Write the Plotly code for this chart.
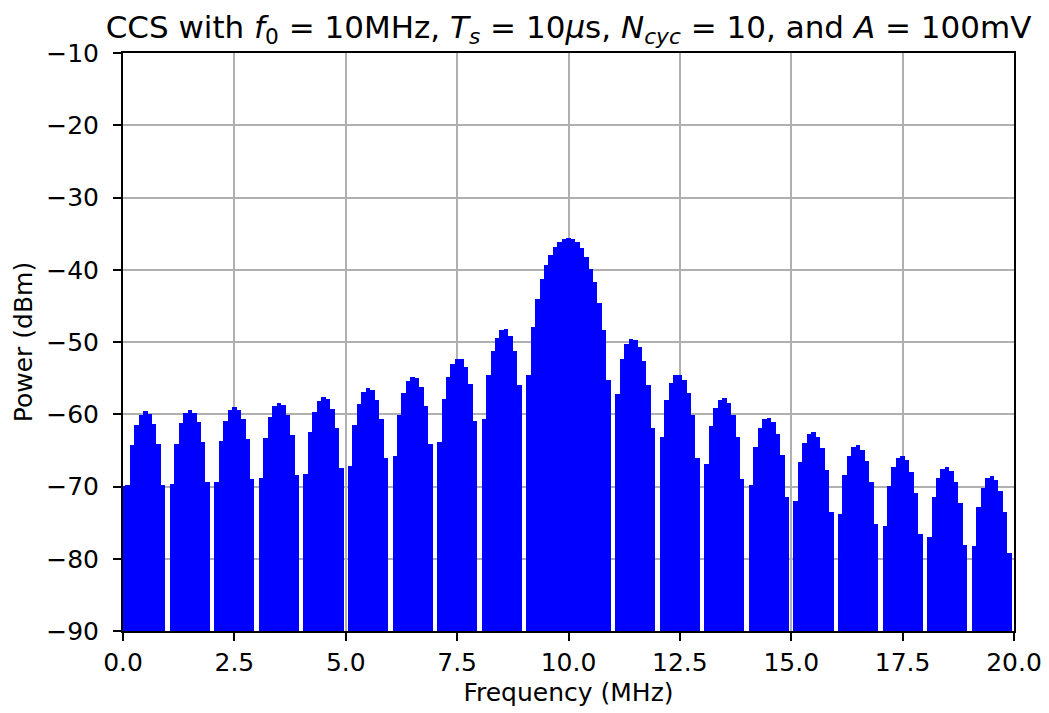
import plotly.graph_objects as go

# Frequency bins (MHz), 0.1 MHz spacing
freq_mhz = [round(0.1 * k, 1) for k in range(201)]

# Power per bin (dBm); None = spectral null (below axis floor)
power_dbm = [
    -69.9,
    -69.86, -64.27, -61.47, -60.06, -59.6, -60.03, -61.41, -64.18, -69.74, None,
    -69.67, -64.06, -61.25, -59.82, -59.35, -59.76, -61.13, -63.88, -69.43, None,
    -69.33, -63.71, -60.88, -59.44, -58.95, -59.35, -60.70, -63.44, -68.97, None,
    -68.86, -63.22, -60.37, -58.91, -58.4, -58.78, -60.11, -62.83, -68.34, None,
    -68.2, -62.52, -59.64, -58.14, -57.6, -57.94, -59.24, -61.92, -67.4, None,
    -67.16, -61.44, -58.52, -56.98, -56.4, -56.70, -57.96, -60.6, -66.04, None,
    -65.82, -60.04, -57.05, -55.45, -54.8, -55.04, -56.23, -58.81, -64.18, None,
    -63.79, -57.90, -54.81, -53.08, -52.3, -52.39, -53.42, -55.81, -60.99, None,
    -60.6, -54.6, -51.3, -49.4, -48.4, -48.25, -49.1, -51.2, -56.0, None,
    -54.6, -47.9, -44.0, -41.3, -39.3, -37.9, -36.8, -36.2, -35.8, -35.6,
    -35.8, -36.2, -37.0, -38.2, -39.9, -41.7, -44.6, -48.3, -55.2, None,
    -57.21, -52.38, -50.3, -49.54, -49.7, -50.7, -52.63, -55.9, -61.95, None,
    -63.19, -58.01, -55.62, -54.59, -54.5, -55.28, -57.01, -60.1, -65.99, None,
    -66.95, -61.64, -59.13, -57.99, -57.8, -58.48, -60.12, -63.13, -68.94, None,
    -69.84, -64.47, -61.9, -60.69, -60.45, -61.08, -62.67, -65.63, -71.39, None,
    -71.94, -66.55, -63.96, -62.75, -62.5, -63.13, -64.72, -67.69, -73.46, None,
    -73.84, -68.43, -65.81, -64.58, -64.3, -64.91, -66.47, -69.42, -75.16, None,
    -75.4, -69.97, -67.34, -66.09, -65.8, -66.39, -67.94, -70.87, -76.6, None,
    -76.96, -71.52, -68.87, -67.61, -67.3, -67.88, -69.41, -72.33, -78.04, None,
    -78.27, -72.81, -70.15, -68.87, -68.55, -69.11, -70.63, -73.53, -79.23, None,
]

y_floor = -90
y_top = -10
x_ticks = [0.0, 2.5, 5.0, 7.5, 10.0, 12.5, 15.0, 17.5, 20.0]
y_ticks = [-90, -80, -70, -60, -50, -40, -30, -20, -10]

heights = [None if v is None else v - y_floor for v in power_dbm]

fig = go.Figure()
fig.add_trace(go.Bar(
    x=freq_mhz, y=heights, base=y_floor, width=0.1,
    marker=dict(color="#0000ff", line=dict(width=0)),
    showlegend=False,
))

font = "DejaVu Sans"
W, H = 1041, 705
fig.update_layout(
    width=W, height=H,
    margin=dict(l=115, r=35, t=45, b=82, autoexpand=False),
    paper_bgcolor="white", plot_bgcolor="white",
    font=dict(family=font, size=25, color="black"),
    bargap=0,
    title=dict(
        text="CCS with <i>f</i><sub>0</sub> = 10MHz, <i>T<sub>s</sub></i> = 10<i>μ</i>s, "
             "<i>N<sub>cyc</sub></i> = 10, and <i>A</i> = 100mV",
        x=0.5, xref="paper", xanchor="center",
        y=1 - 19 / H, yref="container", yanchor="middle",
        font=dict(family=font, size=31, color="black"),
    ),
)
fig.update_xaxes(
    range=[0, 20], tickvals=x_ticks, ticktext=[f"{t:.1f}" for t in x_ticks],
    showgrid=True, gridcolor="#b0b0b0", gridwidth=2,
    showline=True, linecolor="black", linewidth=2, mirror=True,
    ticks="outside", ticklen=8, tickwidth=2, tickcolor="black",
    zeroline=False,
    title=dict(text="Frequency (MHz)", standoff=7, font=dict(size=25)),
)
fig.update_yaxes(
    range=[y_floor, y_top], tickvals=y_ticks,
    showgrid=True, gridcolor="#b0b0b0", gridwidth=2,
    showline=True, linecolor="black", linewidth=2, mirror=True,
    ticks="outside", ticklen=8, tickwidth=2, tickcolor="black",
    ticklabelstandoff=9,
    zeroline=False,
    title=dict(text="Power (dBm)", standoff=6, font=dict(size=25)),
)

fig.write_html("out.html")
